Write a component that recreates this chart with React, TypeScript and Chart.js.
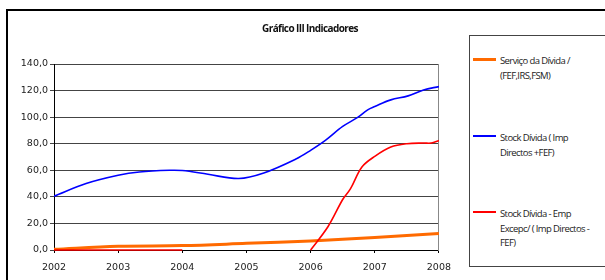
import React, { useEffect, useRef } from "react";
import { Chart, registerables } from "chart.js";

Chart.register(...registerables);

const TITLE = "Gráfico III Indicadores";
const YEAR_TICKS = [2002, 2003, 2004, 2005, 2006, 2007, 2008];

const servicoX = [2002, 2003, 2004, 2005, 2006, 2007, 2008];
const servicoY = [0.5, 2.8, 3.3, 5.0, 6.8, 9.4, 12.5];

const stockX = [2002, 2002.5, 2003, 2003.33, 2003.8, 2004, 2004.4, 2004.88, 2005.27, 2005.78, 2006, 2006.23, 2006.5, 2006.74, 2006.89, 2007, 2007.25, 2007.52, 2007.76, 2008];
const stockY = [40.5, 50, 56.2, 58.7, 60, 59.8, 57, 53.8, 58, 68.7, 75, 82.5, 93, 100, 105.5, 108, 113, 116, 120.5, 123];

const excepX = [2002, 2003, 2004, 2005, 2006, 2006.27, 2006.5, 2006.62, 2006.8, 2007, 2007.25, 2007.5, 2007.76, 2007.88, 2008];
const excepY: (number | null)[] = [0, 0, 0, null, 0, 17.5, 38, 46, 62.5, 70.5, 77.5, 80, 80.5, 80.5, 82.5];

const SERIES = [
  { lines: ["Serviço da Dívida /", "(FEF,IRS,FSM)"], color: "#ff6a00", width: 3, xs: servicoX, ys: servicoY, order: 2, clip: true },
  { lines: ["Stock Dívida ( Imp", "Directos +FEF)"], color: "#0000ff", width: 1.6, xs: stockX, ys: stockY, order: 1, clip: true },
  { lines: ["Stock Dívida - Emp", "Excepc/ ( Imp Directos -", "FEF)"], color: "#ff0000", width: 1.6, xs: excepX, ys: excepY, order: 0, clip: false },
];

const LEGEND_TOPS = [54, 131, 207];

export default function App() {
  const ref = useRef<HTMLCanvasElement | null>(null);

  useEffect(() => {
    if (!ref.current) return;
    const chart = new Chart(ref.current, {
      type: "line",
      data: {
        datasets: SERIES.map((s) => ({
          label: s.lines.join(" "),
          data: s.xs.map((x, i) => ({ x, y: s.ys[i] as any })),
          borderColor: s.color,
          backgroundColor: s.color,
          borderWidth: s.width,
          pointRadius: 0,
          tension: 0.35,
          spanGaps: false,
          fill: false,
          order: s.order,
          clip: s.clip ? undefined : false,
        })),
      },
      options: {
        animation: false,
        responsive: false,
        layout: { padding: { top: 64, right: 20, left: 0, bottom: 0 } },
        plugins: { legend: { display: false }, tooltip: { enabled: false }, title: { display: false } },
        scales: {
          x: {
            type: "linear",
            min: 2002,
            max: 2008,
            afterFit: (s: any) => { s.height = 30; },
            afterBuildTicks: (s: any) => { s.ticks = YEAR_TICKS.map((v) => ({ value: v })); },
            ticks: {
              stepSize: 1,
              padding: 9,
              color: "#222",
              font: { family: "DejaVu Sans", size: 9.5 },
              callback: (v: any) => String(v),
              maxRotation: 0,
            },
            grid: { drawOnChartArea: false, drawTicks: true, tickLength: 3, color: "#000" },
            border: { color: "#000", width: 1 },
          },
          y: {
            min: 0,
            max: 140,
            afterFit: (s: any) => { s.width = 54; },
            ticks: {
              stepSize: 20,
              padding: 2,
              color: "#222",
              font: { family: "DejaVu Sans", size: 9.5 },
              callback: (v: any) => Number(v).toFixed(1).replace(".", ","),
            },
            grid: { color: "#444", tickLength: 4, lineWidth: 1 },
            border: { color: "#000", width: 1 },
          },
          y2: {
            position: "right",
            min: 0,
            max: 140,
            afterFit: (s: any) => { s.width = 0; },
            ticks: { display: false },
            grid: { display: false },
            border: { color: "#888", width: 1 },
          },
        },
      } as any,
    });
    return () => chart.destroy();
  }, []);

  const textFont = "'Open Sans', 'DejaVu Sans', sans-serif";

  return (
    <div style={{ position: "fixed", left: 0, top: 0, width: 605, height: 280, overflow: "hidden", background: "#fff" }}>
      <div style={{ position: "absolute", left: 6, top: 9, width: 800, height: 400, border: "2px solid #000" }} />
      <canvas ref={ref} width={460} height={280} style={{ position: "absolute", left: 0, top: 0 }} />
      <div
        style={{
          position: "absolute", left: 200, width: 220, top: 20, textAlign: "center",
          fontFamily: textFont, fontWeight: 700, fontSize: 10, letterSpacing: -0.6, color: "#111", lineHeight: "16px",
        }}
      >
        {TITLE}
      </div>
      <div style={{ position: "absolute", left: 469, top: 35, width: 300, height: 230, border: "1px solid #444" }} />
      {SERIES.map((s, i) => (
        <React.Fragment key={i}>
          <div style={{ position: "absolute", left: 473, width: 23, top: LEGEND_TOPS[i] + 5 - s.width / 2, height: s.width, background: s.color }} />
          <div
            style={{
              position: "absolute", left: 500, top: LEGEND_TOPS[i], whiteSpace: "nowrap",
              fontFamily: textFont, fontSize: 9.5, letterSpacing: -0.6, lineHeight: "14.5px", color: "#222",
            }}
          >
            {s.lines.map((l, j) => (
              <div key={j}>{l}</div>
            ))}
          </div>
        </React.Fragment>
      ))}
    </div>
  );
}
